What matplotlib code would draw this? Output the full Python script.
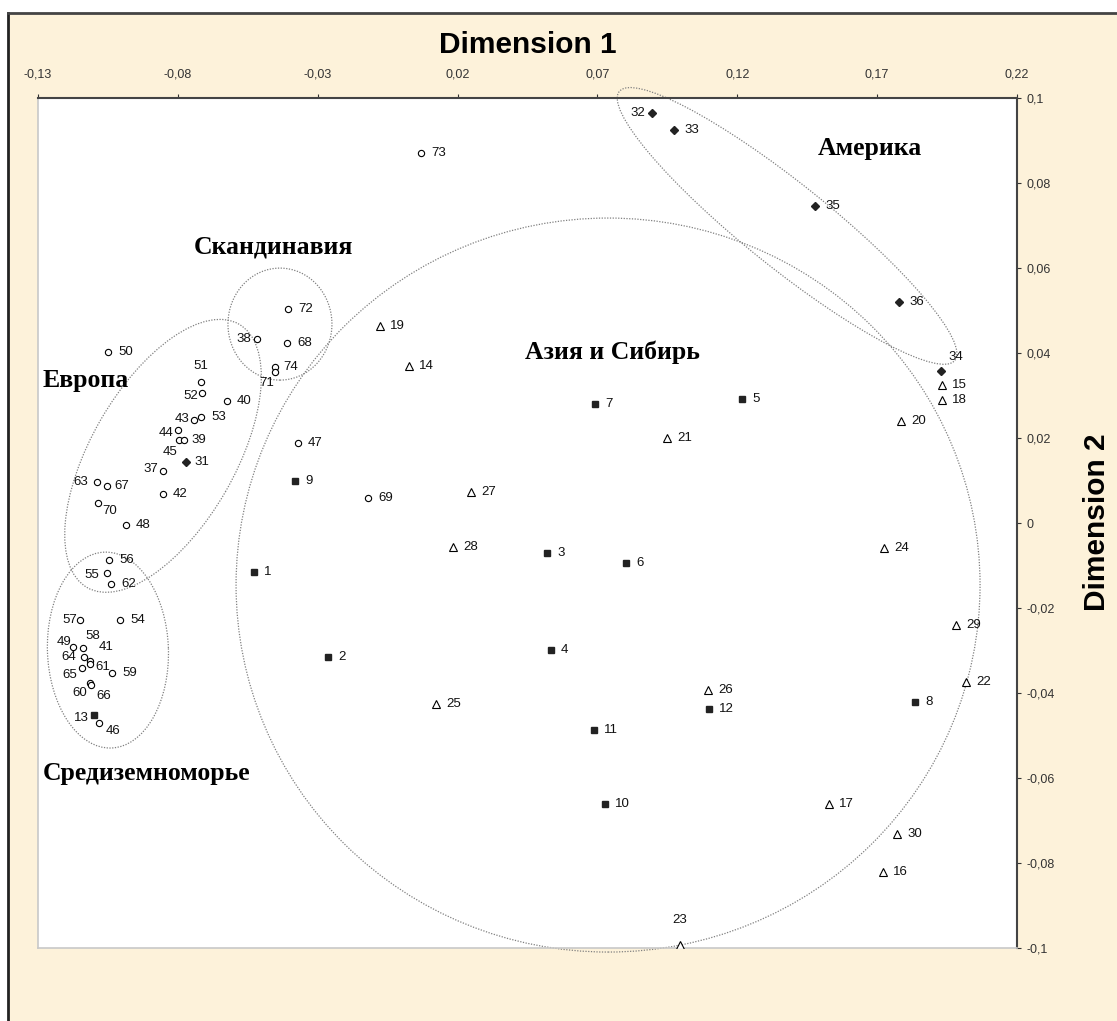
import matplotlib
matplotlib.use("Agg")
import matplotlib.pyplot as plt
from matplotlib.patches import Ellipse, Rectangle
from matplotlib.transforms import ScaledTranslation

# --- coordinates on the two dimensions -------------------------------------
circle_ids = [50, 51, 52, 40, 43, 53, 44, 45, 39, 37, 63, 67, 42, 70, 48,
              72, 68, 38, 74, 71,
              56, 55, 62, 57, 54, 49, 58, 64, 41, 61, 65, 59, 60, 66, 46,
              73, 47, 69]
circle_x = [-0.1050, -0.0717, -0.0714, -0.0624, -0.0742, -0.0717, -0.0799, -0.0796, -0.0778,
            -0.0853, -0.1089, -0.1053, -0.0853, -0.1085, -0.0985,
            -0.0406, -0.0410, -0.0517, -0.0453, -0.0453,
            -0.1046, -0.1053, -0.1039, -0.1150, -0.1007, -0.1175, -0.1139, -0.1136, -0.1114,
            -0.1114, -0.1143, -0.1035, -0.1114, -0.1111, -0.1082,
            0.0069, -0.0370, -0.0120]
circle_y = [0.0402, 0.0332, 0.0306, 0.0287, 0.0242, 0.0249, 0.0219, 0.0195, 0.0195,
            0.0122, 0.0096, 0.0087, 0.0068, 0.0047, -0.0005,
            0.0504, 0.0424, 0.0433, 0.0367, 0.0355,
            -0.0087, -0.0118, -0.0144, -0.0228, -0.0228, -0.0292, -0.0294, -0.0315, -0.0325,
            -0.0332, -0.0341, -0.0353, -0.0376, -0.0381, -0.0471,
            0.0871, 0.0188, 0.0059]

square_ids = [1, 2, 3, 4, 5, 6, 7, 8, 9, 10, 11, 12, 13]
square_x = [-0.0528, -0.0263, 0.0520, 0.0534, 0.1217, 0.0802, 0.0691, 0.1836, -0.0381,
            0.0727, 0.0688, 0.1099, -0.1100]
square_y = [-0.0115, -0.0315, -0.0071, -0.0299, 0.0292, -0.0094, 0.0280, -0.0421, 0.0099,
            -0.0661, -0.0487, -0.0438, -0.0452]

triangle_ids = [14, 15, 16, 17, 18, 19, 20, 21, 22, 23, 24, 25, 26, 27, 28, 29, 30]
triangle_x = [0.0026, 0.1932, 0.1721, 0.1528, 0.1932, -0.0077, 0.1785, 0.0949, 0.2018,
              0.0995, 0.1725, 0.0123, 0.1095, 0.0248, 0.0184, 0.1982, 0.1771]
triangle_y = [0.0369, 0.0325, -0.0821, -0.0661, 0.0289, 0.0464, 0.0240, 0.0200, -0.0374,
              -0.0993, -0.0059, -0.0426, -0.0393, 0.0073, -0.0056, -0.0240, -0.0732]

diamond_ids = [31, 32, 33, 34, 35, 36]
diamond_x = [-0.0771, 0.0895, 0.0974, 0.1928, 0.1478, 0.1778]
diamond_y = [0.0144, 0.0965, 0.0925, 0.0358, 0.0746, 0.0520]

x_ticks = [-0.13, -0.08, -0.03, 0.02, 0.07, 0.12, 0.17, 0.22]
x_tick_labels = ["-0,13", "-0,08", "-0,03", "0,02", "0,07", "0,12", "0,17", "0,22"]
y_ticks = [0.1, 0.08, 0.06, 0.04, 0.02, 0.0, -0.02, -0.04, -0.06, -0.08, -0.1]
y_tick_labels = ["0,1", "0,08", "0,06", "0,04", "0,02", "0", "-0,02", "-0,04",
                 "-0,06", "-0,08", "-0,1"]

# group outlines: name, centre (dim1, dim2), size in pixels, tilt, name position (px)
groups = [
    ("Европа", (-0.0853, 0.0158), 304, 144, 60, (43, 380)),
    ("Скандинавия", (-0.0435, 0.0468), 104, 112, 0, (194, 247)),
    ("Средиземноморье", (-0.1050, -0.0299), 196, 121, 92, (43, 773)),
    ("Азия и Сибирь", (0.0738, -0.0146), 744, 734, 0, (525, 352)),
    ("Америка", (0.1378, 0.0699), 430, 84, -38.7, (818, 148)),
]

# label placement that differs from the default (dx, dy in px, alignment)
label_pos = {
    32: (-7, 0, "right"), 38: (-6, 0, "right"), 51: (0, 16, "center"),
    52: (-4, -3, "right"), 43: (-5, 1, "right"), 44: (-5, -3, "right"),
    45: (-2, -12, "right"), 37: (-5, 2, "right"), 63: (-9, 0, "right"),
    70: (4, -8, "left"), 71: (-8, -11, "center"), 23: (0, 25, "center"),
    34: (8, 14, "left"), 55: (-8, -2, "right"), 57: (-3, 0, "right"),
    49: (-2, 5, "right"), 58: (10, 12, "center"), 41: (9, 14, "left"),
    64: (-8, 0, "right"), 65: (-5, -7, "right"), 61: (5, -3, "left"),
    60: (-3, -10, "right"), 66: (6, -11, "left"), 13: (-5, -3, "right"),
    46: (7, -8, "left"), 67: (7, 0, "left"), 39: (7, 0, "left"),
    31: (8, 0, "left"), 74: (8, 0, "left"),
}

W, H = 1117, 1021
plt.rcParams["font.family"] = ["Liberation Sans", "DejaVu Sans"]
fig = plt.figure(figsize=(W / 100, H / 100), dpi=100, facecolor="white")

# cream panel with a dark top/left edge
fig.patches.append(Rectangle((8 / W, 0), 1, 1 - 13 / H, transform=fig.transFigure,
                             facecolor="#fdf2da", edgecolor="none", zorder=-2))
fig.add_artist(plt.Line2D([8 / W, 8 / W], [0, 1 - 13 / H], color="#222222", lw=2,
                          zorder=-1))
fig.add_artist(plt.Line2D([8 / W, 1], [1 - 13 / H, 1 - 13 / H], color="#444444", lw=2,
                          zorder=-1))

ax = fig.add_axes([38 / W, 1 - 948 / H, 979 / W, 850 / H])
ax.set_zorder(1)
ax.set_facecolor("white")
ax.set_xlim(-0.13, 0.22)
ax.set_ylim(-0.1, 0.1)

ax.xaxis.tick_top()
ax.yaxis.tick_right()
ax.set_xticks(x_ticks)
ax.set_xticklabels(x_tick_labels)
ax.set_yticks(y_ticks)
ax.set_yticklabels(y_tick_labels)
ax.tick_params(axis="x", direction="out", length=3, pad=9.5, labelsize=9,
               colors="#333333")
ax.tick_params(axis="y", direction="out", length=3, pad=4, labelsize=9,
               colors="#333333")
for side in ["top", "right"]:
    ax.spines[side].set_color("#444444")
    ax.spines[side].set_linewidth(1.5)
for side in ["left", "bottom"]:
    ax.spines[side].set_color("#c8c8c8")
    ax.spines[side].set_linewidth(1.2)

ax.plot(circle_x, circle_y, "o", ms=4.5, mfc="white", mec="black", mew=0.8, zorder=3)
ax.plot(square_x, square_y, "s", ms=5, mfc="#222222", mec="#222222", zorder=3)
ax.plot(triangle_x, triangle_y, "^", ms=6, mfc="white", mec="black", mew=0.8, zorder=3)
ax.plot(diamond_x, diamond_y, "D", ms=4.5, mfc="#222222", mec="#222222", zorder=3)

all_ids = circle_ids + square_ids + triangle_ids + diamond_ids
all_x = circle_x + square_x + triangle_x + diamond_x
all_y = circle_y + square_y + triangle_y + diamond_y
for i, x, y in zip(all_ids, all_x, all_y):
    dx, dy, ha = label_pos.get(i, (10, 0, "left"))
    ax.annotate(str(i), (x, y), xytext=(dx, dy), textcoords="offset pixels",
                ha=ha, va="center", fontsize=9.5, color="#111111", zorder=4)

for name, (cx, cy), w, h, ang, (tx, ty) in groups:
    ring = Ellipse((0, 0), w / 100, h / 100, angle=ang, fill=False,
                   edgecolor="#808080", lw=0.9, linestyle=(0, (1, 1.2)),
                   transform=fig.dpi_scale_trans + ScaledTranslation(cx, cy, ax.transData),
                   clip_on=False, zorder=2)
    ax.add_patch(ring)
    fig.text(tx / W, 1 - ty / H, name, ha="left", va="center", fontsize=18.5,
             fontweight="bold", family=["Liberation Serif", "DejaVu Serif"], zorder=5)

fig.text(528 / W, 1 - 45 / H, "Dimension 1", ha="center", va="center",
         fontsize=21.5, fontweight="bold")
fig.text(1097 / W, 1 - 522 / H, "Dimension 2", ha="center", va="center",
         fontsize=21.5, fontweight="bold", rotation=90)

fig.savefig("out.png", dpi=100)
